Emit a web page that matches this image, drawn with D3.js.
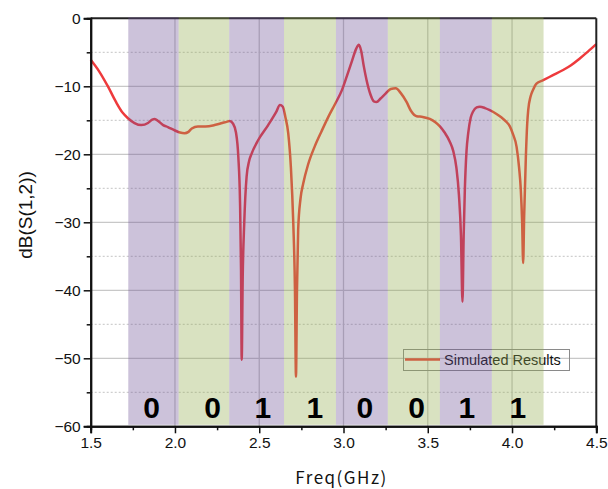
<!DOCTYPE html>
<html><head><meta charset="utf-8">
<script src="https://cdn.jsdelivr.net/npm/d3@7"></script>
<style>body{margin:0;background:#fff}svg{display:block}</style>
</head><body><svg id="c" width="608" height="489"></svg>
<script>
const freq = [1.5,1.55,1.603,1.65,1.69,1.721,1.76,1.80,1.84,1.865,1.88,1.90,1.93,1.958,2.0,2.03,2.057,2.08,2.10,2.136,2.18,2.235,2.28,2.31,2.324,2.345,2.362,2.376,2.386,2.392,2.396,2.402,2.411,2.425,2.44,2.455,2.494,2.553,2.6,2.623,2.64,2.655,2.672,2.688,2.702,2.712,2.718,2.724,2.731,2.745,2.761,2.79,2.83,2.87,2.91,2.95,2.99,3.02,3.05,3.075,3.091,3.105,3.12,3.137,3.16,3.18,3.196,3.22,3.245,3.28,3.31,3.34,3.374,3.40,3.434,3.47,3.512,3.545,3.572,3.60,3.63,3.651,3.67,3.685,3.697,3.706,3.713,3.72,3.73,3.74,3.755,3.769,3.79,3.809,3.84,3.868,3.91,3.938,3.965,3.987,4.005,4.027,4.042,4.052,4.06,4.066,4.072,4.082,4.09,4.096,4.11,4.125,4.145,4.185,4.24,4.303,4.35,4.402,4.45,4.5];
const s12 = [-6.1,-7.8,-10.06,-12.3,-13.9,-14.7,-15.4,-15.7,-15.4,-14.9,-14.8,-15.1,-15.7,-16.0,-16.5,-16.8,-16.9,-16.7,-16.2,-15.9,-15.9,-15.7,-15.4,-15.2,-15.1,-15.5,-16.8,-20.4,-27,-37,-50.2,-38,-30.1,-23.3,-21,-19.9,-17.9,-15.7,-13.8,-12.75,-13.0,-14.5,-16.9,-22,-30.1,-40,-52.7,-40,-31.1,-26.5,-24.3,-21.5,-18.8,-16.6,-14.5,-12.6,-10.6,-8.5,-6.3,-4.5,-3.9,-4.8,-7,-9.1,-11.2,-12.2,-12.3,-11.8,-11.2,-10.4,-10.3,-11,-12.3,-13.6,-14.4,-14.5,-14.8,-15.3,-15.9,-16.8,-18.1,-19.5,-22,-26,-32,-41.7,-32,-25.2,-19.5,-16.9,-14.6,-13.7,-13.1,-13.0,-13.2,-13.5,-14.1,-14.6,-15.2,-15.9,-17,-18.9,-22,-25.2,-30,-36.0,-29,-20.4,-15.5,-13.5,-11.5,-10.5,-9.6,-9.1,-8.4,-7.6,-6.9,-5.9,-4.9,-3.8];
const bandEdges = [1.723,2.022,2.322,2.647,2.955,3.263,3.572,3.88,4.187];
const bits = ["0","0","1","1","0","0","1","1"];
const bitPos = [1.862,2.224,2.522,2.830,3.127,3.433,3.732,4.034];
const xTicks = [1.5,2.0,2.5,3.0,3.5,4.0,4.5];
const yTicks = [0,-10,-20,-30,-40,-50,-60];
const seriesName = "Simulated Results";

const svg = d3.select("#c");
const L=90.7,R=596.3,T=18.3,B=426.3;
const x = d3.scaleLinear().domain([1.5,4.5]).range([L,R]);
const y = d3.scaleLinear().domain([-60,0]).range([B,T]);

// grid
const g = svg.append("g");
g.selectAll(".ym").data(d3.range(-55,0,10)).join("line")
 .attr("x1",L).attr("x2",R).attr("y1",d=>y(d)).attr("y2",d=>y(d))
 .attr("stroke","#c4c4c4").attr("stroke-width",1).attr("stroke-dasharray","2,2");
g.selectAll(".yM").data(yTicks.filter(d=>d>-60&&d<0)).join("line")
 .attr("x1",L).attr("x2",R).attr("y1",d=>y(d)).attr("y2",d=>y(d))
 .attr("stroke","#c8c8c8").attr("stroke-width",1.3);
g.selectAll(".xM").data(xTicks.filter(d=>d>1.5&&d<4.5)).join("line")
 .attr("x1",d=>x(d)).attr("x2",d=>x(d)).attr("y1",T).attr("y2",B)
 .attr("stroke","#c8c8c8").attr("stroke-width",1.3);

// curve
const pts = freq.map((f,i)=>[f,s12[i]]);
svg.append("path").datum(pts)
 .attr("d",d3.line().x(d=>x(d[0])).y(d=>y(d[1])).curve(d3.curveMonotoneX))
 .attr("fill","none").attr("stroke","#ee3a3c").attr("stroke-width",2.5).attr("stroke-linejoin","round");

// legend
const lg = svg.append("g");
lg.append("rect").attr("x",403.5).attr("y",349.5).attr("width",166).attr("height",21)
 .attr("fill","none").attr("stroke","#8a8a8a").attr("stroke-width",1);
lg.append("line").attr("x1",405).attr("x2",440).attr("y1",359.5).attr("y2",359.5)
 .attr("stroke","#ee3a3c").attr("stroke-width",2.5);
lg.append("text").attr("x",444).attr("y",365).text(seriesName)
 .attr("font-family","Liberation Sans, Arial, sans-serif").attr("font-size",14.5).attr("fill","#111");

// top/right frame
svg.append("line").attr("x1",L).attr("x2",R).attr("y1",T).attr("y2",T).attr("stroke","#222").attr("stroke-width",2);
svg.append("line").attr("x1",R).attr("x2",R).attr("y1",T).attr("y2",B).attr("stroke","#222").attr("stroke-width",2);

// bands overlay
const bandData = d3.range(bandEdges.length-1).map(i=>({a:bandEdges[i],b:bandEdges[i+1],i}));
svg.append("g").selectAll("rect").data(bandData).join("rect")
 .attr("x",d=>x(d.a)).attr("width",d=>x(d.b)-x(d.a)).attr("y",T-1).attr("height",B-T-0.5)
 .attr("fill",d=>d.i%2===0?"#6e5096":"#92ac4e").attr("opacity",0.35);

// axes
const ax = svg.append("g").attr("transform",`translate(0,${B})`)
 .call(d3.axisBottom(x).tickValues(xTicks).tickFormat(d3.format(".1f")).tickSize(7).tickPadding(4));
const axm = svg.append("g").attr("transform",`translate(0,${B})`)
 .call(d3.axisBottom(x).tickValues(d3.range(1.75,4.5,0.5)).tickFormat("").tickSize(4));
const ay = svg.append("g").attr("transform",`translate(${L},0)`)
 .call(d3.axisLeft(y).tickValues(yTicks).tickSize(7).tickPadding(3));
const aym = svg.append("g").attr("transform",`translate(${L},0)`)
 .call(d3.axisLeft(y).tickValues(d3.range(-55,0,10)).tickFormat("").tickSize(4));
[ax,axm,ay,aym].forEach(a=>{
  a.select(".domain").attr("stroke","#111").attr("stroke-width",2);
  a.selectAll(".tick line").attr("stroke","#111").attr("stroke-width",1.5);
  a.selectAll("text").attr("font-family","Liberation Sans, Arial, sans-serif").attr("font-size",15.5).attr("fill","#111");
});

// bits
svg.append("g").selectAll("text").data(bits).join("text")
 .attr("x",(d,i)=>x(bitPos[i])).attr("y",417.5).attr("text-anchor","middle")
 .attr("font-family","Liberation Sans, Arial, sans-serif").attr("font-weight","bold").attr("font-size",30)
 .attr("fill","#000").text(d=>d);

// labels
svg.append("text").attr("transform","translate(32,215) rotate(-90)").attr("text-anchor","middle")
 .attr("font-family","Liberation Sans, Arial, sans-serif").attr("font-size",19).attr("fill","#111").text("dB(S(1,2))");
svg.append("text").attr("x",341.5).attr("y",484).attr("text-anchor","middle")
 .attr("font-family","Noto Sans CJK SC, sans-serif").attr("font-size",17).attr("letter-spacing",1.5).attr("fill","#111").text("Freq(GHz)");
</script></body></html>
